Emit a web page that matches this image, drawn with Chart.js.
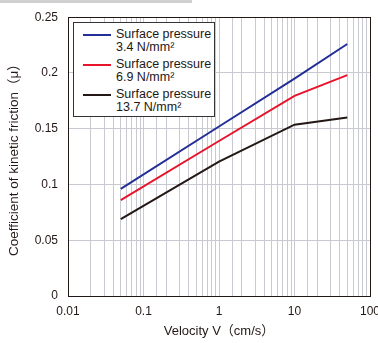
<!DOCTYPE html>
<html>
<head>
<meta charset="utf-8">
<script src="https://cdn.jsdelivr.net/npm/chart.js@4"></script>
<style>
  html, body { margin: 0; padding: 0; background: #fff; }
  #wrap { position: relative; width: 378px; height: 343px; overflow: hidden; }
  #topbar { position: absolute; left: 0; top: 0; width: 192px; height: 3px; background: #d0d0d0; }
  #legend {
    position: absolute; left: 73px; top: 22px; width: 142px; height: 95px;
    border: 1px solid #333; background: #fff;
    font-family: "Liberation Sans", Arial, sans-serif; font-size: 12.5px; color: #231815;
    padding: 5px 0 0 0; box-sizing: border-box;
  }
  .item { display: flex; align-items: flex-start; height: 30px; }
  .swatch { width: 28px; height: 2px; margin: 6px 5px 0 9px; flex: none; }
  .txt { line-height: 13px; white-space: nowrap; }
</style>
</head>
<body>
<div id="wrap">
  <div id="topbar"></div>
  <canvas id="c" width="378" height="343"></canvas>
  <div id="legend"></div>
</div>
<script>
const velocities = [0.05, 1, 10, 50];
const seriesNames = ["Surface pressure", "Surface pressure", "Surface pressure"];
const seriesUnits = ["3.4 N/mm²", "6.9 N/mm²", "13.7 N/mm²"];
const p34 = [0.096, 0.152, 0.195, 0.226];
const p69 = [0.086, 0.139, 0.1795, 0.198];
const p137 = [0.069, 0.1205, 0.1536, 0.160];
const colors = ["#232f96", "#e8142c", "#231815"];
const xTickLabels = {0.01: "0.01", 0.1: "0.1", 1: "1", 10: "10", 100: "100"};

const font = "'Liberation Sans', Arial, 'Noto Sans CJK JP', sans-serif";
const values = [p34, p69, p137];

const datasets = values.map((v, i) => ({
  label: seriesNames[i] + " " + seriesUnits[i],
  data: velocities.map((x, j) => ({x: x, y: v[j]})),
  borderColor: colors[i],
  backgroundColor: colors[i],
  borderWidth: 2,
  pointRadius: 0,
  tension: 0
}));

// legend in html (two-line labels)
const legendEl = document.getElementById("legend");
seriesNames.forEach((n, i) => {
  const d = document.createElement("div");
  d.className = "item";
  d.innerHTML = '<div class="swatch" style="background:' + colors[i] + '"></div>' +
    '<div class="txt">' + n + '<br>' + seriesUnits[i] + '</div>';
  legendEl.appendChild(d);
});

const frame = {
  id: "frame",
  afterDraw(chart) {
    const a = chart.chartArea, ctx = chart.ctx;
    ctx.save();
    ctx.strokeStyle = "#231815";
    ctx.lineWidth = 1;
    ctx.strokeRect(Math.round(a.left) + 0.5, Math.round(a.top) + 0.5,
      Math.round(a.right - a.left), Math.round(a.bottom - a.top));
    ctx.restore();
  }
};

new Chart(document.getElementById("c"), {
  type: "line",
  data: { datasets: datasets },
  plugins: [frame],
  options: {
    responsive: false,
    animation: false,
    layout: { padding: { top: 16, right: 8, left: 0, bottom: 0 } },
    plugins: { legend: { display: false }, tooltip: { enabled: false } },
    scales: {
      x: {
        type: "logarithmic",
        min: 0.01, max: 100,
        afterFit: s => { s.height = 47; s.paddingRight = 0; s.paddingLeft = 0; },
        grid: { color: "#c9c9d2", drawTicks: false },
        border: { color: "#231815" },
        ticks: {
          autoSkip: false, maxRotation: 0, padding: 8,
          color: "#231815", font: { family: font, size: 12 },
          callback: function (v) { return xTickLabels[v] || ""; }
        },
        title: { display: true, text: "Velocity V（cm/s）", color: "#231815",
          font: { family: font, size: 13 }, padding: { top: 9 } }
      },
      y: {
        min: 0, max: 0.25,
        afterFit: s => { s.width = 68; },
        grid: { color: "#c9c9d2", drawTicks: false },
        border: { color: "#231815" },
        ticks: {
          stepSize: 0.05, padding: 10,
          color: "#231815", font: { family: font, size: 12 },
          callback: v => String(Math.round(v * 100) / 100)
        },
        title: { display: true, text: "Coefficient of kinetic friction（μ）", color: "#231815",
          font: { family: font, size: 13.5 }, padding: { top: 6, bottom: 0 } }
      }
    }
  }
});
</script>
</body>
</html>
